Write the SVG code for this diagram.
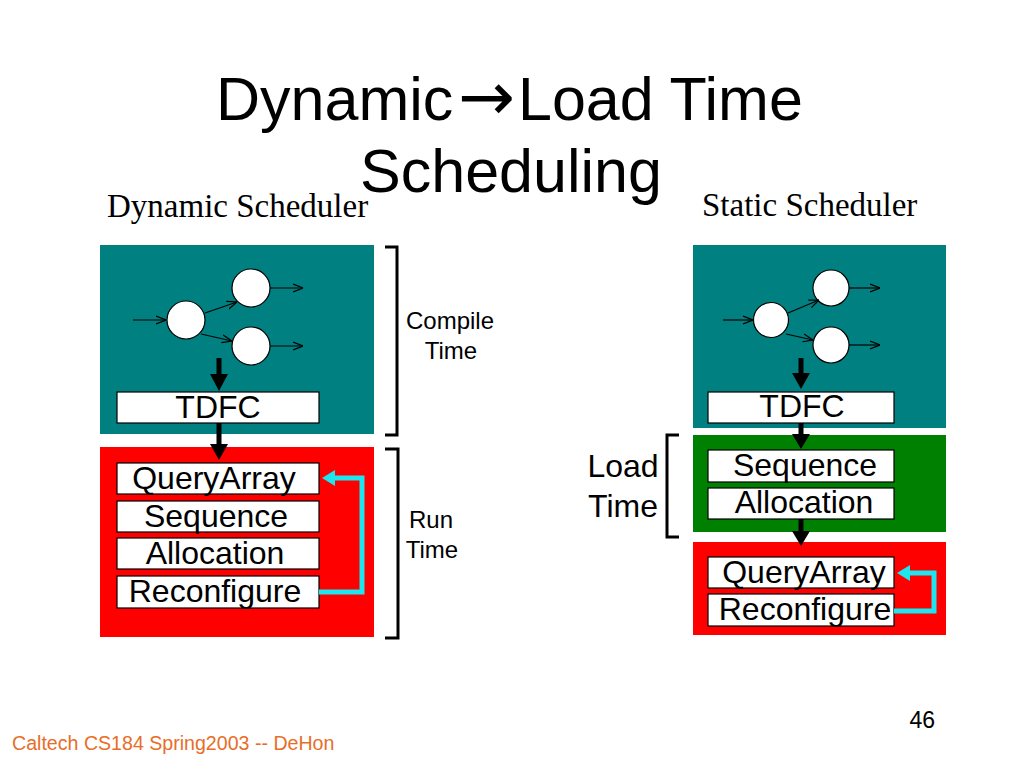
<svg xmlns="http://www.w3.org/2000/svg" width="1024" height="768" viewBox="0 0 1024 768">
<defs>
<style>
.title{font-family:"Liberation Sans",Arial,sans-serif;font-size:61px;fill:#000;text-anchor:middle}
.serif{font-family:"Liberation Serif","Times New Roman",serif;font-size:33px;fill:#000}
.lbl{font-family:"Liberation Sans",Arial,sans-serif;font-size:32px;fill:#000;text-anchor:middle}
.small{font-family:"Liberation Sans",Arial,sans-serif;font-size:24px;fill:#000;text-anchor:middle}
.box{fill:#fff;stroke:#000;stroke-width:1.2}
.circ{fill:#fff;stroke:#000;stroke-width:1.2}
.thin{stroke:#000;stroke-width:1.2;fill:none;marker-end:url(#open)}
.thick{fill:#000}
.cyan{fill:none;stroke:#1EE6EE;stroke-width:5;stroke-linejoin:miter}
.cyanhead{fill:#1EE6EE}
.brk{fill:none;stroke:#000;stroke-width:3}
</style>
<marker id="open" viewBox="0 0 10 10" refX="10" refY="5" markerWidth="10" markerHeight="10" markerUnits="userSpaceOnUse" orient="auto">
<path d="M0,1 L10,5 L0,9" fill="none" stroke="#000" stroke-width="1.2"/>
</marker>
</defs>
<rect width="1024" height="768" fill="#fff"/>

<g id="title">
<text class="title" y="120"><tspan x="216" style="text-anchor:start">Dynamic</tspan><tspan x="458" y="120" style="text-anchor:start;font-family:'DejaVu Sans',sans-serif;font-size:68px">→</tspan><tspan x="518" y="120" style="text-anchor:start">Load Time</tspan></text>
<text class="title" x="511" y="192">Scheduling</text>
</g>
<g id="heading-left"><text class="serif" x="107" y="217">Dynamic Scheduler</text></g>
<g id="heading-right"><text class="serif" x="702" y="216">Static Scheduler</text></g>

<g id="left-compile">
<rect x="100" y="245" width="274" height="189" fill="#008080"/>
<circle class="circ" cx="186" cy="320" r="19"/>
<circle class="circ" cx="251" cy="288" r="19"/>
<circle class="circ" cx="251" cy="346" r="19"/>
</g>
<g id="left-tdfc"><rect class="box" x="117" y="392" width="202" height="31"/><text class="lbl" x="218" y="418">TDFC</text></g>
<g id="left-run"><rect x="100" y="447" width="274" height="190" fill="#ff0000"/></g>
<g id="left-queryarray"><rect class="box" x="117" y="463" width="202" height="31"/><text class="lbl" x="214" y="489">QueryArray</text></g>
<g id="left-sequence"><rect class="box" x="117" y="501" width="202" height="31"/><text class="lbl" x="216" y="527">Sequence</text></g>
<g id="left-allocation"><rect class="box" x="117" y="538" width="202" height="31"/><text class="lbl" x="215" y="564">Allocation</text></g>
<g id="left-reconfigure"><rect class="box" x="117" y="576" width="202" height="32"/><text class="lbl" x="215" y="602">Reconfigure</text></g>

<g id="compile-time">
<path class="brk" d="M385,247 H397 V435 H385"/>
<text class="small" x="450" y="329">Compile</text>
<text class="small" x="451" y="359">Time</text>
</g>
<g id="run-time">
<path class="brk" d="M385,449 H398 V638 H385"/>
<text class="small" x="431" y="528">Run</text>
<text class="small" x="432" y="558">Time</text>
</g>

<g id="right-compile">
<rect x="693" y="245" width="253" height="183" fill="#008080"/>
<circle class="circ" cx="771" cy="320" r="17.5"/>
<circle class="circ" cx="831" cy="288" r="18"/>
<circle class="circ" cx="831" cy="345" r="18"/>
</g>
<g id="right-tdfc"><rect class="box" x="708" y="392" width="186" height="31"/><text class="lbl" x="802" y="417">TDFC</text></g>
<g id="right-load"><rect x="693" y="435" width="253" height="97" fill="#008000"/></g>
<g id="right-sequence"><rect class="box" x="708" y="450" width="186" height="32"/><text class="lbl" x="805" y="476">Sequence</text></g>
<g id="right-allocation"><rect class="box" x="708" y="488" width="186" height="31"/><text class="lbl" x="804" y="513">Allocation</text></g>
<g id="right-run"><rect x="693" y="542" width="253" height="93" fill="#ff0000"/></g>
<g id="right-queryarray"><rect class="box" x="708" y="557" width="186" height="31"/><text class="lbl" x="804" y="583">QueryArray</text></g>
<g id="right-reconfigure"><rect class="box" x="708" y="594" width="186" height="32"/><text class="lbl" x="805" y="620">Reconfigure</text></g>

<g id="load-time">
<path class="brk" d="M679,435 H667 V537 H679"/>
<text class="lbl" x="623" y="477">Load</text>
<text class="lbl" x="623" y="517">Time</text>
</g>

<g id="connectors">
<line class="thin" x1="133" y1="320" x2="166" y2="320"/>
<line class="thin" x1="205" y1="313" x2="237" y2="302"/>
<line class="thin" x1="201" y1="334" x2="232" y2="341"/>
<line class="thin" x1="270" y1="288" x2="303" y2="288"/>
<line class="thin" x1="270" y1="346" x2="303" y2="346"/>
<line class="thin" x1="723" y1="320" x2="753" y2="320"/>
<line class="thin" x1="788" y1="313" x2="819" y2="300"/>
<line class="thin" x1="786" y1="334" x2="813" y2="340"/>
<line class="thin" x1="849" y1="288" x2="880" y2="288"/>
<line class="thin" x1="849" y1="345" x2="880" y2="345"/>
<polygon class="thick" points="216.5,358 221.5,358 221.5,374 228,374 219,391 210,374 216.5,374"/>
<polygon class="thick" points="216.5,423 221.5,423 221.5,444 228,444 219,460 210,444 216.5,444"/>
<polygon class="thick" points="798.5,358 803.5,358 803.5,373 810,373 801,389 792,373 798.5,373"/>
<polygon class="thick" points="798.5,423 803.5,423 803.5,434 810,434 801,449 792,434 798.5,434"/>
<polygon class="thick" points="798.5,519 803.5,519 803.5,531 810,531 801,546 792,531 798.5,531"/>
<path class="cyan" d="M319,592 H362 V478 H332"/>
<polygon class="cyanhead" points="322,478 335,470 335,486"/>
<path class="cyan" d="M894,611 H934 V573 H907"/>
<polygon class="cyanhead" points="897,573 910,565 910,581"/>
</g>

<g id="footer">
<text x="12" y="750" style="font-family:'Liberation Sans',Arial,sans-serif;font-size:19.6px;fill:#E86E28">Caltech CS184 Spring2003 -- DeHon</text>
<text x="935" y="728" style="font-family:'Liberation Sans',Arial,sans-serif;font-size:23px;fill:#000;text-anchor:end">46</text>
</g>
</svg>
